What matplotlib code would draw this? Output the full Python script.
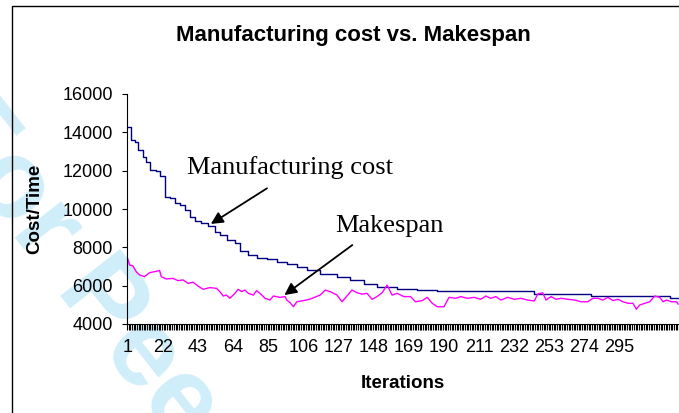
import numpy as np
import matplotlib.pyplot as plt
from matplotlib.patches import Rectangle

# manufacturing cost (step changes)
cost_iter = [1, 3, 5, 7, 10, 12, 14, 18, 20, 23, 26, 29, 32, 35, 38, 41, 45, 49,
             53, 56, 60, 65, 68, 73, 78, 84, 90, 96, 102, 108, 116, 126, 134, 142,
             150, 162, 174, 186, 244, 278, 325, 330]
cost_val = [14300, 13600, 13500, 13100, 12700, 12450, 12050, 12000, 11700, 10650,
            10550, 10300, 10200, 9950, 9600, 9350, 9250, 9100, 8800, 8650, 8400,
            8200, 7800, 7600, 7450, 7400, 7250, 7150, 7000, 6800, 6600, 6450, 6300,
            6100, 5950, 5850, 5750, 5700, 5550, 5450, 5350, 5350]

# makespan
span_iter = [1, 2, 4, 6, 8, 11, 14, 17, 20, 21, 24, 28, 31, 34, 37, 40, 43, 46, 50,
             54, 56, 58, 60, 62, 65, 67, 69, 71, 73, 76, 78, 80, 83, 86, 88, 92, 95,
             96, 98, 100, 102, 106, 110, 116, 119, 122, 126, 129, 132, 135, 138, 141,
             144, 147, 150, 153, 156, 159, 162, 166, 170, 173, 177, 180, 183, 186,
             190, 193, 197, 200, 204, 208, 212, 215, 218, 221, 224, 228, 232, 236,
             240, 244, 246, 249, 251, 254, 257, 260, 264, 268, 272, 276, 279, 282,
             285, 288, 291, 294, 297, 300, 303, 305, 307, 310, 313, 316, 319, 321,
             323, 326, 329, 330]
span_val = [7390, 7080, 7030, 6730, 6560, 6470, 6680, 6730, 6790, 6470, 6350, 6380,
            6260, 6300, 6120, 6180, 5980, 5810, 5900, 5860, 5690, 5460, 5510, 5340,
            5600, 5810, 5690, 5770, 5600, 5510, 5740, 5600, 5340, 5250, 5460, 5390,
            5430, 5250, 5110, 4900, 5160, 5220, 5300, 5510, 5770, 5690, 5510, 5160,
            5460, 5770, 5630, 5560, 5600, 5290, 5430, 5630, 6030, 5510, 5600, 5430,
            5430, 5160, 5220, 5390, 5080, 4900, 4900, 5390, 5340, 5430, 5340, 5390,
            5290, 5460, 5340, 5430, 5250, 5390, 5290, 5340, 5250, 5200, 5560, 5630,
            5250, 5430, 5290, 5340, 5290, 5250, 5160, 5160, 5340, 5340, 5250, 5390,
            5220, 5290, 5160, 5080, 5080, 4770, 4990, 5080, 5160, 5460, 5390, 5160,
            5250, 5160, 5160, 5040]

n_iter = 330
label_ticks = list(range(1, 296, 21))
yticks = [4000, 6000, 8000, 10000, 12000, 14000, 16000]

px = 1 / 100 * 72  # pixels -> points at dpi 100

fig = plt.figure(figsize=(6.79, 4.13), dpi=100)

# watermark, behind everything
fig.text(-0.11, 0.70, 'For Peer Review', fontsize=80, fontweight='bold',
         family='Liberation Sans', color='#d0eefa', rotation=-52,
         rotation_mode='anchor', ha='left', va='baseline', zorder=0)

# outer chart border
fig.patches.append(Rectangle((12 / 679, -0.2), 1.3, 1.2 - 6 / 413,
                             transform=fig.transFigure, fill=False,
                             edgecolor='black', linewidth=1.0, zorder=1))

ax = fig.add_axes([127 / 679, 89 / 413, 552 / 679, 230 / 413])
ax.set_zorder(2)
ax.patch.set_alpha(0)

ax.plot(cost_iter, cost_val, color='#000080', linewidth=1.0, drawstyle='steps-post')
ax.plot(span_iter, span_val, color='#ff00ff', linewidth=1.0)

ax.set_xlim(0.5, n_iter + 0.5)
ax.set_ylim(4000, 16000)
ax.set_yticks(yticks)
ax.set_yticklabels([str(v) for v in yticks])
ax.set_xticks(label_ticks)
ax.set_xticklabels([str(v) for v in label_ticks])
ax.set_xticks(np.arange(0.5, n_iter + 1, 1), minor=True)

for s in ['top', 'right']:
    ax.spines[s].set_visible(False)
for s in ['left', 'bottom']:
    ax.spines[s].set_linewidth(0.8)

ax.tick_params(axis='y', direction='out', length=5 * px, width=0.8, pad=6.5,
               labelsize=13, labelfontfamily='Liberation Sans')
ax.tick_params(axis='x', which='major', length=0, pad=11, labelsize=13,
               labelfontfamily='Liberation Sans')
ax.tick_params(axis='x', which='minor', direction='out', length=6 * px, width=0.8)

ax.set_ylabel('Cost/Time', fontsize=13.5, fontweight='bold', family='Liberation Sans')
ax.yaxis.set_label_coords(-0.152, 0.5)
ax.text(0.5, -0.257, 'Iterations', transform=ax.transAxes, ha='center', va='center',
        fontsize=13.5, fontweight='bold', family='Liberation Sans')

fig.text(353.5 / 679, 1 - 35 / 413, 'Manufacturing cost vs. Makespan', ha='center',
         va='center', fontsize=16, fontweight='bold', family='Liberation Sans')

# annotations
ax.annotate('', xy=(50.6, 9220), xytext=(84.2, 11080),
            arrowprops=dict(arrowstyle='-|>', color='black', lw=1.3,
                            mutation_scale=18, shrinkA=0, shrinkB=0))
ax.annotate('', xy=(94.6, 5510), xytext=(135.2, 8120),
            arrowprops=dict(arrowstyle='-|>', color='black', lw=1.3,
                            mutation_scale=18, shrinkA=0, shrinkB=0))
ax.text(97.7, 12140, 'Manufacturing cost', ha='center', va='center', fontsize=19,
        family='Liberation Serif')
ax.text(157.6, 9110, 'Makespan', ha='center', va='center', fontsize=19,
        family='Liberation Serif')

fig.savefig('out.png', dpi=100)
